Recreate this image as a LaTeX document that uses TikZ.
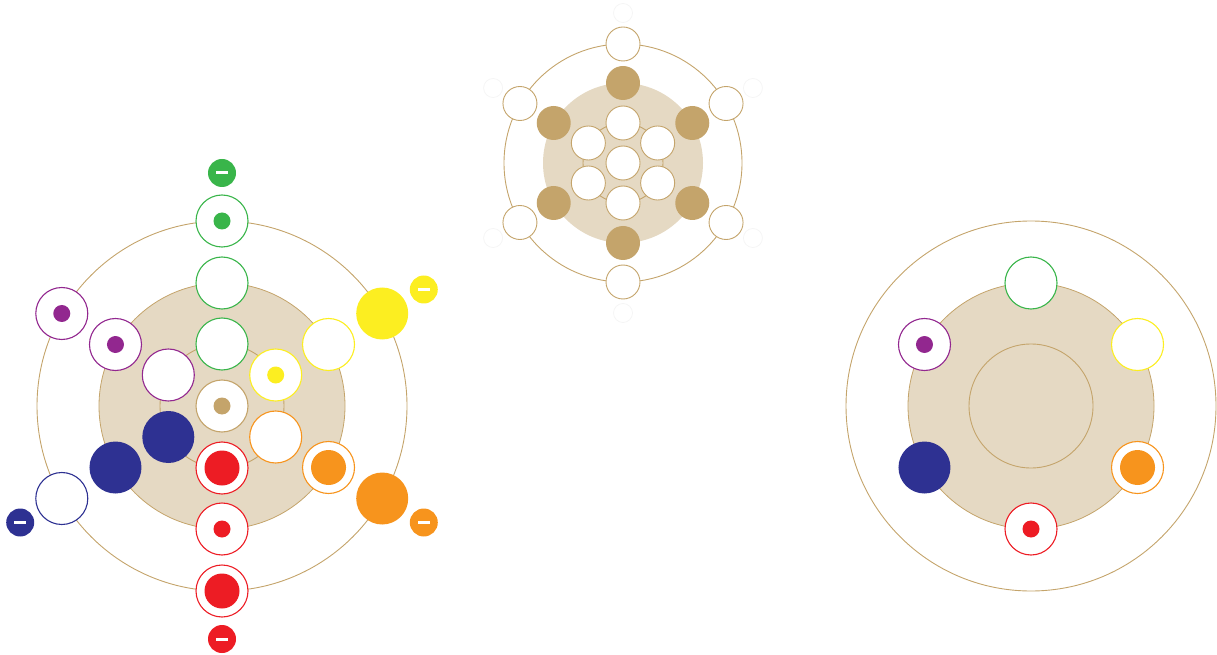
\documentclass[tikz,border=0pt]{standalone}
\usetikzlibrary{calc}
\definecolor{grn}{HTML}{39B54A}
\definecolor{yel}{HTML}{FCEE21}
\definecolor{org}{HTML}{F7941D}
\definecolor{rd}{HTML}{ED1C24}
\definecolor{blu}{HTML}{2E3192}
\definecolor{pur}{HTML}{92278F}
\definecolor{tan}{HTML}{C4A46B}
\definecolor{sand}{HTML}{E5D9C3}
\tikzset{
  bead/.style={circle, minimum size=52pt, inner sep=0pt, line width=1.1pt, draw=#1, fill=white},
  solid bead/.style={circle, minimum size=52pt, inner sep=0pt, fill=#1},
  small dot/.style={circle, minimum size=17pt, inner sep=0pt, fill=#1},
  big dot/.style={circle, minimum size=35pt, inner sep=0pt, fill=#1},
  badge/.style={circle, minimum size=28pt, inner sep=0pt, fill=#1},
  bar/.style={fill=white, minimum width=12pt, minimum height=3pt, inner sep=0pt},
  ring/.style={draw=tan, line width=0.9pt},
  tbead/.style={circle, minimum size=34pt, inner sep=0pt, line width=0.9pt, draw=tan, fill=white},
  tsolid/.style={circle, minimum size=34pt, inner sep=0pt, fill=tan},
  ghost/.style={circle, minimum size=19pt, inner sep=0pt, draw=black!4, line width=0.8pt},
}
\begin{document}
\begin{tikzpicture}[x=1pt,y=1pt]
\useasboundingbox (0,0) rectangle (1217,654);
% ---------------- top diagram ----------------
\coordinate (T) at (623,491);
\draw[ring] (T) circle (119);
\fill[sand] (T) circle (80);
\draw[ring] (T) circle (40);
\foreach \a/\n in {90/a,30/b,-30/c,-90/d,210/e,150/f}{
  \node[ghost] (tg\n) at ([shift={(\a:150)}]T) {};
  \node[tbead] (to\n) at ([shift={(\a:119)}]T) {};
  \node[tsolid] (tm\n) at ([shift={(\a:80)}]T) {};
  \node[tbead] (ti\n) at ([shift={(\a:40)}]T) {};
}
\node[tbead] (tc) at (T) {};
% ---------------- left diagram ----------------
\coordinate (L) at (222,248);
\draw[ring] (L) circle (185);
\filldraw[fill=sand, draw=tan, line width=0.8pt] (L) circle (123);
\draw[ring] (L) circle (62);
% centre
\node[bead=tan] (lc) at (L) {};
\node[small dot=tan] (lcd) at (L) {};
% inner ring (r=62)
\node[bead=grn] (li1) at ([shift={(90:62)}]L) {};
\node[bead=yel] (li2) at ([shift={(30:62)}]L) {};
\node[small dot=yel] (li2d) at (li2) {};
\node[bead=org] (li3) at ([shift={(-30:62)}]L) {};
\node[bead=rd] (li4) at ([shift={(-90:62)}]L) {};
\node[big dot=rd] (li4d) at (li4) {};
\node[solid bead=blu] (li5) at ([shift={(210:62)}]L) {};
\node[bead=pur] (li6) at ([shift={(150:62)}]L) {};
% middle ring (r=123)
\node[bead=grn] (lm1) at ([shift={(90:123)}]L) {};
\node[bead=yel] (lm2) at ([shift={(30:123)}]L) {};
\node[bead=org] (lm3) at ([shift={(-30:123)}]L) {};
\node[big dot=org] (lm3d) at (lm3) {};
\node[bead=rd] (lm4) at ([shift={(-90:123)}]L) {};
\node[small dot=rd] (lm4d) at (lm4) {};
\node[solid bead=blu] (lm5) at ([shift={(210:123)}]L) {};
\node[bead=pur] (lm6) at ([shift={(150:123)}]L) {};
\node[small dot=pur] (lm6d) at (lm6) {};
% outer ring (r=185)
\node[bead=grn] (lo1) at ([shift={(90:185)}]L) {};
\node[small dot=grn] (lo1d) at (lo1) {};
\node[solid bead=yel] (lo2) at ([shift={(30:185)}]L) {};
\node[solid bead=org] (lo3) at ([shift={(-30:185)}]L) {};
\node[bead=rd] (lo4) at ([shift={(-90:185)}]L) {};
\node[big dot=rd] (lo4d) at (lo4) {};
\node[bead=blu] (lo5) at ([shift={(210:185)}]L) {};
\node[bead=pur] (lo6) at ([shift={(150:185)}]L) {};
\node[small dot=pur] (lo6d) at (lo6) {};
% minus badges (r=233)
\foreach \a/\c/\n in {90/grn/1,30/yel/2,-30/org/3,-90/rd/4,210/blu/5}{
  \node[badge=\c] (lb\n) at ([shift={(\a:233)}]L) {};
  \node[bar] (lbb\n) at (lb\n) {};
}
% ---------------- right diagram ----------------
\coordinate (R) at (1031,248);
\draw[ring] (R) circle (185);
\filldraw[fill=sand, draw=tan, line width=0.8pt] (R) circle (123);
\draw[ring] (R) circle (62);
\node[bead=grn] (rm1) at ([shift={(90:123)}]R) {};
\node[bead=yel] (rm2) at ([shift={(30:123)}]R) {};
\node[bead=org] (rm3) at ([shift={(-30:123)}]R) {};
\node[big dot=org] (rm3d) at (rm3) {};
\node[bead=rd] (rm4) at ([shift={(-90:123)}]R) {};
\node[small dot=rd] (rm4d) at (rm4) {};
\node[solid bead=blu] (rm5) at ([shift={(210:123)}]R) {};
\node[bead=pur] (rm6) at ([shift={(150:123)}]R) {};
\node[small dot=pur] (rm6d) at (rm6) {};
\end{tikzpicture}
\end{document}
